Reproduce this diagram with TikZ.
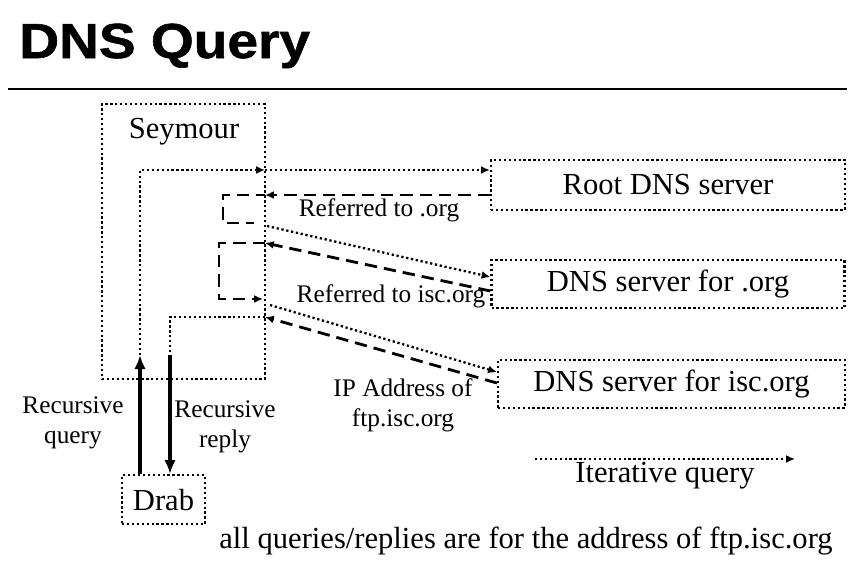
\documentclass[tikz,border=0pt]{standalone}
\usepackage{fontspec}
\setmainfont{Liberation Serif}
\newfontfamily\titlefont{Liberation Sans}[FakeStretch=1.12,FakeBold=1.2]
\usepackage{tikz}
\usetikzlibrary{arrows.meta, positioning}
\newcommand{\boxfont}{\fontsize{17.4}{20}\selectfont}
\newcommand{\lblfont}{\fontsize{14.4}{17}\selectfont}
\tikzset{
    hostbox/.style={
        rectangle,
        draw=black,
        line width=1.3pt,
        dash pattern=on 1.3pt off 1.5pt,
        inner sep=0pt,
        font=\boxfont
    },
    boxtext/.style={
        inner sep=0pt,
        font=\boxfont
    },
    lbl/.style={
        inner sep=0pt,
        align=center,
        font=\lblfont
    },
    iterline/.style={
        draw=black,
        line width=1.3pt,
        dash pattern=on 1.3pt off 1.5pt
    },
    iter/.style={
        iterline,
        -{Latex[length=5pt,width=4.5pt]}
    },
    refer/.style={
        draw=black,
        line width=1.6pt,
        dash pattern=on 7pt off 4pt
    },
    referarrow/.style={
        refer,
        -{Latex[length=5pt,width=4.5pt]}
    },
    recur/.style={
        draw=black,
        line width=2.3pt,
        -{Latex[length=8pt,width=6.5pt]}
    }
}

\begin{document}
\begin{tikzpicture}[x=0.02cm, y=-0.02cm]
\useasboundingbox (0,0) rectangle (858,565);

% Title and rule
\node[anchor=base west, inner sep=0pt, font=\titlefont\bfseries\fontsize{28}{32}\selectfont] (title) at (19,58) {DNS Query};
\coordinate (ruleL) at (8,89);
\coordinate (ruleR) at (847,89);
\draw[line width=0.9pt] (ruleL) -- (ruleR);

% Local server and client
\node[hostbox, minimum width=3.26cm, minimum height=5.5cm] (seymour) at (183.5,241.5) {};
\node[boxtext] (seymourlbl) at (184,132) {Seymour};
\node[hostbox, minimum width=1.66cm, minimum height=0.98cm, below=1.88cm of seymour, xshift=-0.4cm] (drab) {Drab};

% Name servers
\node[hostbox, minimum width=7.08cm, minimum height=1cm] (root) at (668,185) {Root DNS server};
\node[hostbox, minimum width=7.06cm, minimum height=0.96cm, below=0.96cm of root] (dotorg) {DNS server for .org};
\node[hostbox, minimum width=6.94cm, minimum height=0.96cm] (isc) at (671.5,384) {DNS server for isc.org};

% Recursive part
\coordinate (qtop) at (140,355);
\coordinate (rtop) at (170,355);
\draw[recur] (drab.north -| qtop) -- (qtop);
\draw[recur] (rtop) -- (drab.north -| rtop);
\node[lbl] (recq) at (73,423) {Recursive\\query};
\node[lbl] (recr) at (225,427) {Recursive\\reply};

% Iterative part
\coordinate (s1) at (265,170);
\coordinate (s2) at (265,195);
\coordinate (l1) at (223,223);
\coordinate (l1e) at (254,223);
\coordinate (s3) at (267,226);
\coordinate (s4) at (265,243);
\coordinate (l2) at (219,299);
\coordinate (s5) at (263,299);
\coordinate (s6) at (270,305);
\coordinate (s7) at (265,317);

\draw[iter] (qtop) |- (s1);
\draw[iter] (s1) -- (root.west |- s1);
\draw[referarrow] (root.west |- s2) -- (s2);
\draw[refer, dash phase=2pt] (s2) -| (l1) -- (l1e);
\draw[iter] (s3) -- (dotorg.west |- 0,277);
\draw[referarrow] (dotorg.west |- 0,291) -- (s4);
\draw[referarrow] (s4) -| (l2) -- (s5);
\draw[iter] (s6) -- (isc.west |- 0,372);
\draw[referarrow] (isc.west |- 0,383) -- (s7);
\draw[iterline] (s7) -| (rtop);

\node[lbl] (refroot) at (379,210) {Referred to .org};
\node[lbl] (reforg) at (391,296) {Referred to isc.org};
\node[lbl] (refisc) at (403,405) {IP Address of\\ftp.isc.org};

% Legend and note
\coordinate (legA) at (535,459);
\coordinate (legB) at (795,459);
\draw[iter] (legA) -- (legB);
\node[boxtext] (legend) at (665,476) {Iterative query};
\node[boxtext] (note) at (526,541) {all queries/replies are for the address of ftp.isc.org};

\end{tikzpicture}
\end{document}
